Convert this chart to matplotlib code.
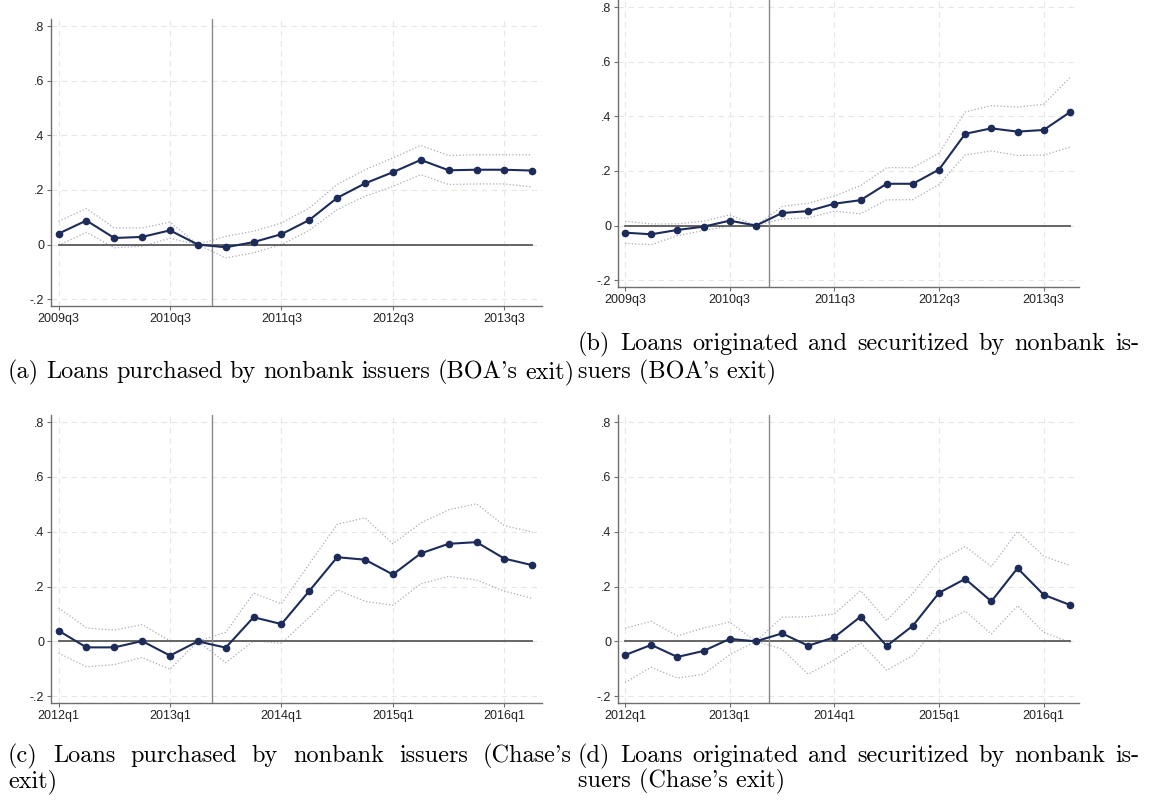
import matplotlib
matplotlib.use("Agg")
import matplotlib.pyplot as plt
import numpy as np

W, H = 1149, 802

# quarters since start of window, event quarter is index 5 (normalised to 0)
quarter = np.arange(18)
event_x = 5.5

ticks_boa = ["2009q3", "2010q3", "2011q3", "2012q3", "2013q3"]
ticks_chase = ["2012q1", "2013q1", "2014q1", "2015q1", "2016q1"]

# (a) purchased, BOA exit
coef_a = [0.040, 0.088, 0.024, 0.028, 0.052, 0.0, -0.010, 0.009, 0.038,
          0.090, 0.171, 0.224, 0.265, 0.310, 0.272, 0.274, 0.274, 0.271]
hi_a = [0.085, 0.132, 0.061, 0.061, 0.082, 0.0, 0.030, 0.049, 0.079,
        0.134, 0.220, 0.274, 0.317, 0.363, 0.326, 0.329, 0.329, 0.329]
lo_a = [-0.003, 0.045, -0.012, -0.006, 0.023, 0.0, -0.049, -0.030, 0.0,
        0.052, 0.128, 0.177, 0.213, 0.256, 0.220, 0.222, 0.222, 0.211]

# (b) originated and securitized, BOA exit
coef_b = [-0.026, -0.032, -0.016, -0.004, 0.018, 0.0, 0.046, 0.053, 0.080,
          0.093, 0.153, 0.153, 0.205, 0.336, 0.356, 0.344, 0.350, 0.415]
hi_b = [0.016, 0.006, 0.006, 0.016, 0.039, 0.0, 0.070, 0.082, 0.108,
        0.146, 0.212, 0.212, 0.265, 0.416, 0.439, 0.434, 0.444, 0.542]
lo_b = [-0.065, -0.070, -0.037, -0.018, -0.002, 0.0, 0.024, 0.028, 0.053,
        0.043, 0.094, 0.095, 0.150, 0.259, 0.273, 0.257, 0.258, 0.287]

# (c) purchased, Chase exit
coef_c = [0.039, -0.022, -0.022, 0.001, -0.052, 0.0, -0.023, 0.088, 0.063,
          0.184, 0.307, 0.298, 0.244, 0.321, 0.356, 0.362, 0.302, 0.278]
hi_c = [0.122, 0.049, 0.041, 0.061, 0.002, 0.0, 0.033, 0.176, 0.137,
        0.283, 0.427, 0.451, 0.356, 0.432, 0.480, 0.502, 0.422, 0.399]
lo_c = [-0.043, -0.093, -0.085, -0.059, -0.102, 0.0, -0.078, 0.002, -0.007,
        0.088, 0.188, 0.146, 0.132, 0.210, 0.237, 0.224, 0.183, 0.157]

# (d) originated and securitized, Chase exit
coef_d = [-0.050, -0.013, -0.057, -0.035, 0.009, 0.0, 0.029, -0.016, 0.015,
          0.090, -0.017, 0.057, 0.177, 0.228, 0.146, 0.267, 0.170, 0.133]
hi_d = [0.048, 0.073, 0.020, 0.049, 0.070, 0.0, 0.088, 0.090, 0.100,
        0.185, 0.076, 0.176, 0.293, 0.346, 0.273, 0.401, 0.311, 0.277]
lo_d = [-0.150, -0.095, -0.134, -0.120, -0.049, 0.0, -0.028, -0.120, -0.068,
        -0.006, -0.105, -0.052, 0.063, 0.110, 0.027, 0.130, 0.033, -0.003]

yticks = [-0.2, 0, 0.2, 0.4, 0.6, 0.8]
ylabels = ["-.2", "0", ".2", ".4", ".6", ".8"]

navy = "#1c2b59"
tick_font = dict(family="Liberation Sans", size=9)


def px_rect(l, t, r, b):
    return [l / W, 1 - b / H, (r - l) / W, (b - t) / H]


def event_panel(fig, rect, coef, hi, lo, xlabels):
    ax = fig.add_axes(rect)
    ax.set_xlim(-0.27, 17.35)
    ax.set_ylim(-0.225, 0.826)
    ax.set_yticks(yticks)
    ax.set_yticklabels(ylabels, fontdict=tick_font, color="#222222")
    ax.set_xticks(quarter[::4])
    ax.set_xticklabels(xlabels, fontdict=tick_font, color="#222222")
    ax.grid(True, color="#e6e6e6", linestyle=(0, (5, 4)), linewidth=0.8)
    ax.set_axisbelow(True)
    for s in ["top", "right"]:
        ax.spines[s].set_visible(False)
    for s in ["left", "bottom"]:
        ax.spines[s].set_color("#6e6e6e")
        ax.spines[s].set_linewidth(1.0)
    ax.tick_params(length=3, width=0.8, color="#6e6e6e", pad=2)

    ax.plot(quarter, hi, color="#a9abbd", linestyle=":", linewidth=0.9)
    ax.plot(quarter, lo, color="#a9abbd", linestyle=":", linewidth=0.9)
    ax.plot([quarter[0], quarter[-1]], [0, 0], color="#5a5a5a", linewidth=1.3)
    ax.axvline(event_x, color="#8a8a8a", linewidth=1.0)
    ax.plot(quarter, coef, color=navy, linewidth=1.5, marker="o",
            markersize=4.5, markerfacecolor=navy, markeredgecolor=navy)
    return ax


cap_size = 17.5
cap_font = dict(family=["cmr10", "DejaVu Serif"], size=cap_size, color="black")


def caption_line(fig, text, x0, y, x1=None):
    # x0/x1/y in pixels; when x1 given the words are spread to fill the width
    if x1 is None:
        fig.text(x0 / W, 1 - y / H, text, va="baseline", ha="left", **cap_font)
        return
    words = text.split(" ")
    objs = [fig.text(0, 1 - y / H, w_, va="baseline", ha="left", **cap_font)
            for w_ in words]
    rend = fig.canvas.get_renderer()
    widths = [o.get_window_extent(rend).width for o in objs]
    gap = (x1 - x0 - sum(widths)) / (len(words) - 1)
    gap = max(gap, 0.3 * cap_size * 100 / 72)
    x = x0
    for o, wd in zip(objs, widths):
        o.set_x(x / W)
        x += wd + gap


fig = plt.figure(figsize=(W / 100, H / 100), dpi=100)

event_panel(fig, px_rect(51, 19, 542, 306), coef_a, hi_a, lo_a, ticks_boa)
event_panel(fig, px_rect(618, 0, 1079, 287), coef_b, hi_b, lo_b, ticks_boa)
event_panel(fig, px_rect(51, 415, 542, 703), coef_c, hi_c, lo_c, ticks_chase)
event_panel(fig, px_rect(618, 415, 1079, 703), coef_d, hi_d, lo_d, ticks_chase)

caption_line(fig, "(a) Loans purchased by nonbank issuers (BOA's exit)", 8, 378, 572)
caption_line(fig, "(b) Loans originated and securitized by nonbank is-", 578, 350, 1139)
caption_line(fig, "suers (BOA's exit)", 578, 378)
caption_line(fig, "(c) Loans purchased by nonbank issuers (Chase's", 8, 762, 572)
caption_line(fig, "exit)", 8, 787)
caption_line(fig, "(d) Loans originated and securitized by nonbank is-", 578, 762, 1139)
caption_line(fig, "suers (Chase's exit)", 578, 787)

fig.savefig("out.png", dpi=100, facecolor="white")
